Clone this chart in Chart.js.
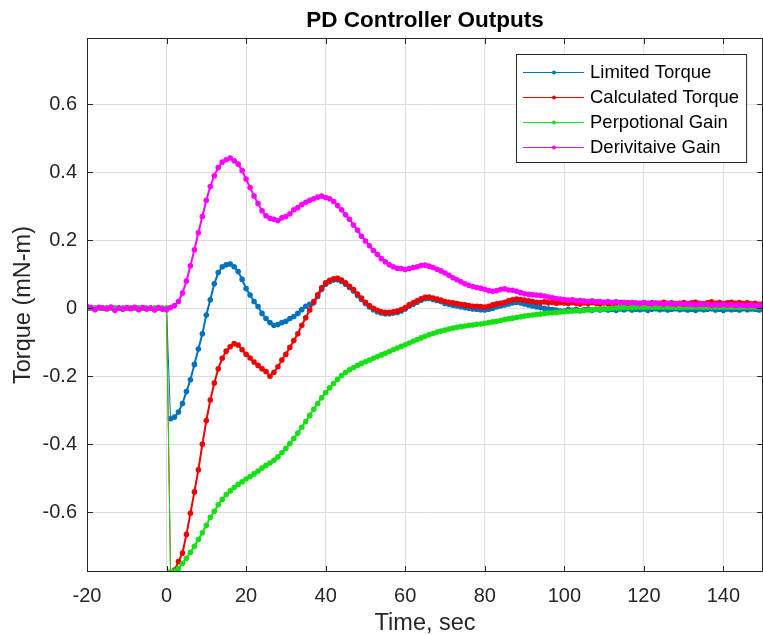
<!DOCTYPE html>
<html>
<head>
<meta charset="utf-8">
<title>PD Controller Outputs</title>
<script src="https://cdn.jsdelivr.net/npm/chart.js@4.4.1/dist/chart.umd.min.js"></script>
<style>
  html, body { margin: 0; padding: 0; background: #fff; overflow: hidden; }
  #grafica { display: block; }
</style>
</head>
<body>
<canvas id="grafica" width="766" height="635"></canvas>
<script>
// tiempo en segundos, una muestra por segundo (-20 ... 150)
const tiempo = Array.from({ length: 171 }, (_, i) => i - 20);

const ticksX = [-20, 0, 20, 40, 60, 80, 100, 120, 140];
const ticksY = [-0.6, -0.4, -0.2, 0, 0.2, 0.4, 0.6];

const nombres = ['Limited Torque', 'Calculated Torque', 'Perpotional Gain', 'Derivitaive Gain'];
const colores = ['#0072bd', '#f00000', '#14e014', '#ff00ff'];

// cada fila = 10 segundos
const limitedTorque = [
  0, 0, 0, 0, 0, 0, 0, 0, 0, 0,                                               // -20
  0, 0, 0, 0, 0, 0, 0, 0, 0, 0,                                               // -10
  0, -0.325, -0.32, -0.305, -0.28, -0.245, -0.21, -0.165, -0.12, -0.075,      // 0
  -0.02, 0.025, 0.072, 0.105, 0.122, 0.128, 0.13, 0.122, 0.108, 0.085,        // 10
  0.058, 0.039, 0.02, 0.005, -0.015, -0.03, -0.042, -0.05, -0.048, -0.042,    // 20
  -0.038, -0.03, -0.024, -0.015, -0.004, 0.006, 0.012, 0.016, 0.035, 0.055,   // 30
  0.071, 0.078, 0.083, 0.084, 0.079, 0.071, 0.061, 0.051, 0.038, 0.026,       // 40
  0.014, 0.004, -0.004, -0.01, -0.014, -0.016, -0.016, -0.014, -0.012, -0.008, // 50
  -0.002, 0.006, 0.012, 0.018, 0.024, 0.028, 0.029, 0.026, 0.023, 0.02,      // 60
  0.014, 0.012, 0.009, 0.007, 0.004, 0.002, 0.0, -0.002, -0.003, -0.004,      // 70
  -0.005, -0.003, 0.0, 0.004, 0.007, 0.01, 0.013, 0.016, 0.018, 0.016,        // 80
  0.013, 0.01, 0.007, 0.004, 0.002, 0.0, -0.002, -0.004, -0.005, -0.008,      // 90
  -0.008, -0.004, -0.006, -0.003, -0.007, -0.004, -0.002, -0.006, -0.003, -0.005, // 100
  -0.002, -0.005, -0.003, -0.006, -0.002, -0.004, -0.001, -0.005, -0.003, -0.004, // 110
  -0.002, -0.006, -0.003, -0.001, -0.004, -0.002, -0.005, -0.003, -0.001, -0.004, // 120
  -0.002, -0.005, -0.003, -0.006, -0.002, -0.004, -0.003, -0.001, -0.005, -0.003, // 130
  -0.006, -0.002, -0.004, -0.003, -0.005, -0.001, -0.004, -0.002, -0.003, -0.005, // 140
  -0.003                                                                      // 150
];

const calculatedTorque = [
  0, 0, 0, 0, 0, 0, 0, 0, 0, 0,
  0, 0, 0, 0, 0, 0, 0, 0, 0, 0,
  0, -0.78, -0.77, -0.745, -0.72, -0.665, -0.603, -0.54, -0.475, -0.4,
  -0.33, -0.27, -0.22, -0.178, -0.147, -0.126, -0.113, -0.104, -0.108, -0.122,
  -0.135, -0.146, -0.158, -0.168, -0.178, -0.186, -0.2, -0.188, -0.172, -0.152,
  -0.135, -0.115, -0.095, -0.075, -0.05, -0.028, -0.005, 0.02, 0.04, 0.06,
  0.075, 0.082, 0.087, 0.088, 0.083, 0.075, 0.065, 0.055, 0.042, 0.03,
  0.018, 0.008, 0.0, -0.006, -0.01, -0.012, -0.012, -0.01, -0.008, -0.004,
  0.002, 0.01, 0.016, 0.022, 0.028, 0.032, 0.033, 0.03, 0.027, 0.024,
  0.02, 0.018, 0.016, 0.014, 0.012, 0.01, 0.008, 0.006, 0.006, 0.005,
  0.004, 0.006, 0.01, 0.013, 0.015, 0.018, 0.022, 0.025, 0.027, 0.026,
  0.024, 0.022, 0.02, 0.018, 0.017, 0.019, 0.016, 0.018, 0.015, 0.017,
  0.016, 0.014, 0.017, 0.015, 0.013, 0.016, 0.014, 0.017, 0.015, 0.013,
  0.016, 0.014, 0.012, 0.015, 0.017, 0.013, 0.016, 0.014, 0.012, 0.015,
  0.017, 0.014, 0.016, 0.013, 0.015, 0.018, 0.014, 0.016, 0.013, 0.015,
  0.017, 0.014, 0.016, 0.018, 0.015, 0.013, 0.016, 0.019, 0.015, 0.017,
  0.014, 0.016, 0.018, 0.015, 0.017, 0.014, 0.016, 0.013, 0.015, 0.012,
  0.014
];

const perpotionalGain = [
  0, 0, 0, 0, 0, 0, 0, 0, 0, 0,
  0, 0, 0, 0, 0, 0, 0, 0, 0, 0,
  0, -0.775, -0.773, -0.765, -0.75, -0.735, -0.718, -0.7, -0.68, -0.66,
  -0.638, -0.615, -0.597, -0.578, -0.562, -0.548, -0.537, -0.527, -0.518, -0.51,
  -0.502, -0.495, -0.487, -0.479, -0.47, -0.462, -0.455, -0.447, -0.437, -0.425,
  -0.412, -0.398, -0.383, -0.367, -0.35, -0.333, -0.315, -0.297, -0.28, -0.263,
  -0.248, -0.234, -0.221, -0.209, -0.198, -0.189, -0.181, -0.174, -0.168, -0.162,
  -0.157, -0.152, -0.147, -0.142, -0.137, -0.132, -0.127, -0.122, -0.117, -0.112,
  -0.107, -0.102, -0.097, -0.092, -0.087, -0.082, -0.078, -0.074, -0.07, -0.067,
  -0.064, -0.061, -0.058, -0.056, -0.054, -0.052, -0.05, -0.049, -0.047, -0.046,
  -0.044, -0.042, -0.04, -0.038, -0.036, -0.033, -0.031, -0.029, -0.027, -0.025,
  -0.023, -0.021, -0.02, -0.018, -0.017, -0.015, -0.014, -0.013, -0.012, -0.011,
  -0.01, -0.009, -0.008, -0.007, -0.007, -0.006, -0.005, -0.004, -0.003, -0.003,
  -0.002, -0.001, 0, 0.001, 0.001, 0.002, 0.002, 0.002, 0.003, 0.003,
  0.003, 0.003, 0.003, 0.003, 0.003, 0.003, 0.003, 0.003, 0.003, 0.003,
  0.003, 0.003, 0.003, 0.003, 0.003, 0.003, 0.003, 0.003, 0.003, 0.003,
  0.003, 0.003, 0.003, 0.003, 0.003, 0.003, 0.003, 0.003, 0.003, 0.003,
  0.003
];

const derivitaiveGain = [
  0.005, 0.002, -0.004, 0.003, 0.001, -0.002, 0.004, -0.006, 0.001, -0.003,
  0.002, -0.001, 0.003, -0.004, 0.002, -0.002, 0.001, -0.005, 0.002, -0.003,
  -0.004, 0.002, 0.008, 0.02, 0.045, 0.08, 0.125, 0.172, 0.222, 0.27,
  0.318, 0.358, 0.39, 0.414, 0.43, 0.437, 0.442, 0.434, 0.424, 0.405,
  0.38, 0.355, 0.33, 0.308, 0.287, 0.272, 0.265, 0.262, 0.258, 0.266,
  0.27, 0.278, 0.29, 0.296, 0.305, 0.312, 0.318, 0.322, 0.327, 0.33,
  0.326, 0.322, 0.314, 0.302, 0.29, 0.275, 0.262, 0.245, 0.23, 0.212,
  0.198, 0.184, 0.17, 0.158, 0.146, 0.137, 0.128, 0.122, 0.118, 0.117,
  0.114, 0.117, 0.12, 0.122, 0.126, 0.127, 0.124, 0.12, 0.115, 0.11,
  0.104, 0.097, 0.09, 0.084, 0.078, 0.072, 0.068, 0.064, 0.061, 0.059,
  0.056, 0.052, 0.05, 0.052, 0.055, 0.057, 0.054, 0.053, 0.05, 0.046,
  0.043, 0.041, 0.04, 0.039, 0.038, 0.036, 0.033, 0.031, 0.029, 0.027,
  0.026, 0.024, 0.025, 0.022, 0.023, 0.021, 0.02, 0.022, 0.019, 0.02,
  0.018, 0.02, 0.017, 0.019, 0.016, 0.018, 0.015, 0.017, 0.016, 0.014,
  0.016, 0.015, 0.013, 0.016, 0.014, 0.012, 0.015, 0.013, 0.012, 0.014,
  0.011, 0.013, 0.012, 0.01, 0.013, 0.011, 0.012, 0.009, 0.011, 0.01,
  0.012, 0.009, 0.011, 0.008, 0.01, 0.009, 0.007, 0.01, 0.008, 0.009,
  0.008
];

const series = [limitedTorque, calculatedTorque, perpotionalGain, derivitaiveGain];

const fuente = '"Liberation Sans", Arial, Helvetica, sans-serif';
Chart.defaults.font.family = fuente;
Chart.defaults.color = '#262626';

// marco de los ejes con marcas hacia adentro (estilo matlab)
const marco = {
  id: 'marco',
  afterDraw(chart) {
    const { ctx, chartArea: a, scales } = chart;
    ctx.save();
    ctx.strokeStyle = '#262626';
    ctx.lineWidth = 1;
    ctx.beginPath();
    ticksX.forEach(v => {
      const x = Math.round(scales.x.getPixelForValue(v)) + 0.5;
      ctx.moveTo(x, a.bottom); ctx.lineTo(x, a.bottom - 6);
      ctx.moveTo(x, a.top); ctx.lineTo(x, a.top + 6);
    });
    ticksY.forEach(v => {
      const y = Math.round(scales.y.getPixelForValue(v)) + 0.5;
      ctx.moveTo(a.left, y); ctx.lineTo(a.left + 6, y);
      ctx.moveTo(a.right, y); ctx.lineTo(a.right - 6, y);
    });
    ctx.stroke();
    ctx.strokeRect(Math.round(a.left) + 0.5, Math.round(a.top) + 0.5,
      Math.round(a.right - a.left) - 1, Math.round(a.bottom - a.top) - 1);
    ctx.restore();
  }
};

// leyenda dentro del area, arriba a la derecha
const leyenda = {
  id: 'leyenda',
  afterDraw(chart) {
    const { ctx, chartArea: a } = chart;
    ctx.save();
    ctx.font = '18.5px ' + fuente;
    const anchoTexto = Math.max(...nombres.map(n => ctx.measureText(n).width));
    const ancho = 74 + anchoTexto + 7;
    const alto = 108;
    const x0 = Math.round(a.right - 17 - ancho);
    const y0 = Math.round(a.top + 16);
    ctx.fillStyle = '#fff';
    ctx.fillRect(x0, y0, ancho, alto);
    ctx.strokeStyle = '#262626';
    ctx.lineWidth = 1;
    ctx.strokeRect(x0 + 0.5, y0 + 0.5, ancho, alto);
    ctx.textBaseline = 'middle';
    chart.data.datasets.forEach((ds, i) => {
      const y = y0 + 18 + i * 25;
      ctx.strokeStyle = ds.borderColor;
      ctx.beginPath();
      ctx.moveTo(x0 + 7, y + 0.5);
      ctx.lineTo(x0 + 68, y + 0.5);
      ctx.stroke();
      ctx.fillStyle = ds.borderColor;
      ctx.beginPath();
      ctx.arc(x0 + 38, y + 0.5, 2, 0, Math.PI * 2);
      ctx.fill();
      ctx.fillStyle = '#000';
      ctx.fillText(ds.label, x0 + 74, y + 1);
    });
    ctx.restore();
  }
};

const grafica = new Chart(document.getElementById('grafica'), {
  type: 'line',
  data: {
    datasets: nombres.map((n, i) => ({
      label: n,
      data: tiempo.map((t, k) => ({ x: t, y: series[i][k] })),
      borderColor: colores[i],
      backgroundColor: colores[i],
      borderWidth: 2,
      pointRadius: 2.8,
      pointBorderWidth: 0,
      pointHoverRadius: 0,
      tension: 0,
      clip: 0,
      order: 3 - i,
      // el salto en t = 0..1 se ve como una linea fina
      segment: { borderWidth: c => (c.p0.parsed.x === 0 ? 1 : undefined) }
    }))
  },
  options: {
    responsive: false,
    animation: false,
    devicePixelRatio: 1,
    events: [],
    layout: { padding: { left: 0, right: 1, top: 0, bottom: 0 } },
    plugins: {
      legend: { display: false },
      tooltip: { enabled: false },
      title: { display: false }
    },
    scales: {
      x: {
        type: 'linear',
        min: -20,
        max: 150,
        afterBuildTicks: s => { s.ticks = ticksX.map(v => ({ value: v })); },
        afterFit: s => { s.height = 63; },
        grid: { color: '#dedede', drawTicks: false },
        border: { display: false },
        ticks: { padding: 12, maxRotation: 0, color: '#262626', font: { size: 20 } },
        title: {
          display: true, text: 'Time, sec', color: '#262626',
          font: { size: 23.5, lineHeight: 1 }, padding: { top: 0, bottom: 0 }
        }
      },
      arriba: {
        type: 'linear',
        axis: 'x',
        position: 'top',
        min: -20,
        max: 150,
        afterFit: s => { s.height = 38; },
        grid: { display: false },
        border: { display: false },
        ticks: { display: false },
        title: {
          display: true, text: 'PD Controller Outputs', color: '#000',
          font: { size: 22.5, weight: 'bold', lineHeight: 1 }, padding: { top: 10, bottom: 0 }
        }
      },
      y: {
        type: 'linear',
        min: -0.7756,
        max: 0.795,
        afterBuildTicks: s => { s.ticks = ticksY.map(v => ({ value: v })); },
        afterFit: s => { s.width = 87; },
        grid: { color: '#dedede', drawTicks: false },
        border: { display: false },
        ticks: {
          padding: 10, color: '#262626', font: { size: 20 },
          callback: v => String(Math.round(v * 10) / 10)
        },
        title: {
          display: true, text: 'Torque (mN-m)', color: '#262626',
          font: { size: 23.5, lineHeight: 1 }, padding: { top: 12, bottom: 0 }
        }
      }
    }
  },
  plugins: [marco, leyenda]
});
</script>
</body>
</html>
